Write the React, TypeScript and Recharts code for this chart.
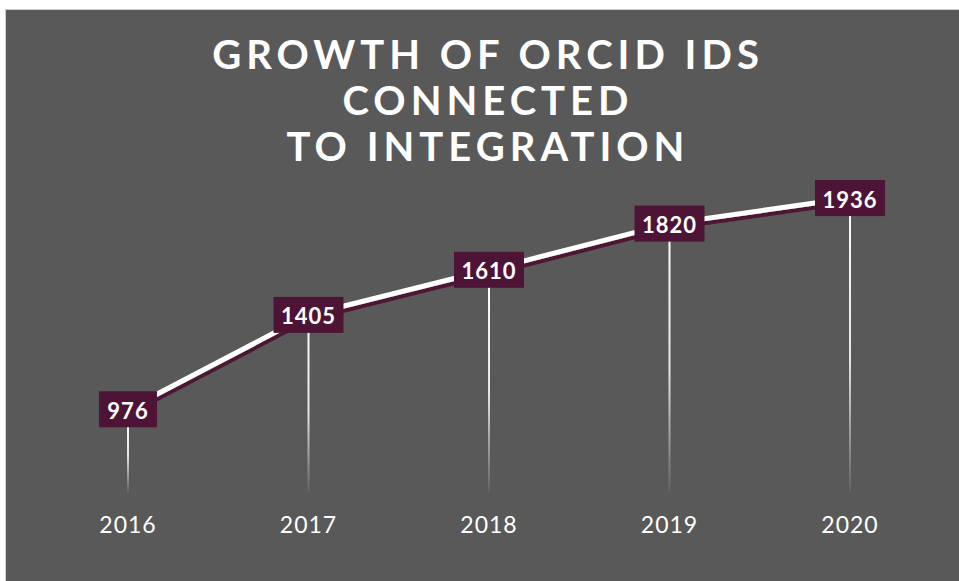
import React from "react";
import { LineChart, Line, XAxis, YAxis, LabelList } from "recharts";

const years = ["2016", "2017", "2018", "2019", "2020"];
const connectedIds = [976, 1405, 1610, 1820, 1936];

const data = years.map((year, i) => ({ year, ids: connectedIds[i] }));

const BG = "#595959";
const MAROON = "#4d1436";
const FONT = "Lato, 'Open Sans', sans-serif";
const PLOT_BOTTOM = 492;

// vertical drop line from each point down to the axis, fading out
const DropLine = (props: any) => {
  const { cx, cy, index } = props;
  if (cx == null || cy == null) return null;
  const id = `drop-${index}`;
  return (
    <g key={id}>
      <defs>
        <linearGradient id={id} gradientUnits="userSpaceOnUse" x1={0} y1={cy} x2={0} y2={PLOT_BOTTOM}>
          <stop offset="0%" stopColor="#ffffff" stopOpacity={1} />
          <stop offset="55%" stopColor="#ffffff" stopOpacity={0.85} />
          <stop offset="100%" stopColor="#ffffff" stopOpacity={0.05} />
        </linearGradient>
      </defs>
      <rect x={cx - 1} y={cy} width={2} height={PLOT_BOTTOM - cy} fill={`url(#${id})`} />
    </g>
  );
};

// maroon box with the value
const ValueBox = (props: any) => {
  const { x, y, value } = props;
  const txt = String(value);
  const w = txt.length * 12 + 22;
  const h = 36;
  return (
    <g>
      <rect x={x - w / 2} y={y - h / 2} width={w} height={h} fill={MAROON} />
      <text x={x} y={y + 1} fill="#fff" textAnchor="middle" dominantBaseline="central"
        style={{ fontFamily: FONT, fontSize: 22, fontWeight: 700, letterSpacing: 1 }}>
        {txt}
      </text>
    </g>
  );
};

const YearTick = ({ x, y, payload }: any) => (
  <text x={x} y={y + 32} fill="#fff" textAnchor="middle" dominantBaseline="central"
    style={{ fontFamily: FONT, fontSize: 23, fontWeight: 400, letterSpacing: 1 }}>
    {payload.value}
  </text>
);

export default function App() {
  return (
    <div style={{ position: "absolute", left: 0, top: 0, width: 959, height: 581, background: "#fff" }}>
      <svg width={0} height={0} style={{ position: "absolute" }}>
        <defs>
          <filter id="lineShadow" x="-10%" y="-20%" width="120%" height="140%">
            <feDropShadow dx={1} dy={4} stdDeviation={0.4} floodColor={MAROON} floodOpacity={1} />
          </filter>
        </defs>
      </svg>
      <div style={{
        position: "absolute", left: 5, top: 9, width: 954, height: 572,
        background: BG, borderLeft: "1px solid #d0d0d0", borderTop: "1px solid #d0d0d0"
      }} />
      <div style={{
        position: "absolute", left: 0, top: 31, width: 976, textAlign: "center",
        color: "#fff", fontFamily: FONT, fontWeight: 700, fontSize: 40, lineHeight: "46px",
        letterSpacing: 5
      }}>
        <div>GROWTH OF ORCID IDS</div>
        <div>CONNECTED</div>
        <div>TO INTEGRATION</div>
      </div>
      <div style={{ position: "absolute", left: 0, top: 0 }}>
        <LineChart width={959} height={581} data={data}
          margin={{ top: 140, right: 109, left: 128, bottom: 59 }}>
          <XAxis dataKey="year" axisLine={false} tickLine={false} tickSize={0} tickMargin={0}
            height={30} interval={0} tick={<YearTick />} />
          <YAxis hide domain={[600, 2200]} />
          <Line dataKey="ids" type="linear" stroke="#fff" strokeWidth={5} filter="url(#lineShadow)"
            dot={<DropLine />} activeDot={false} isAnimationActive={false}>
            <LabelList dataKey="ids" content={<ValueBox />} />
          </Line>
        </LineChart>
      </div>
    </div>
  );
}
